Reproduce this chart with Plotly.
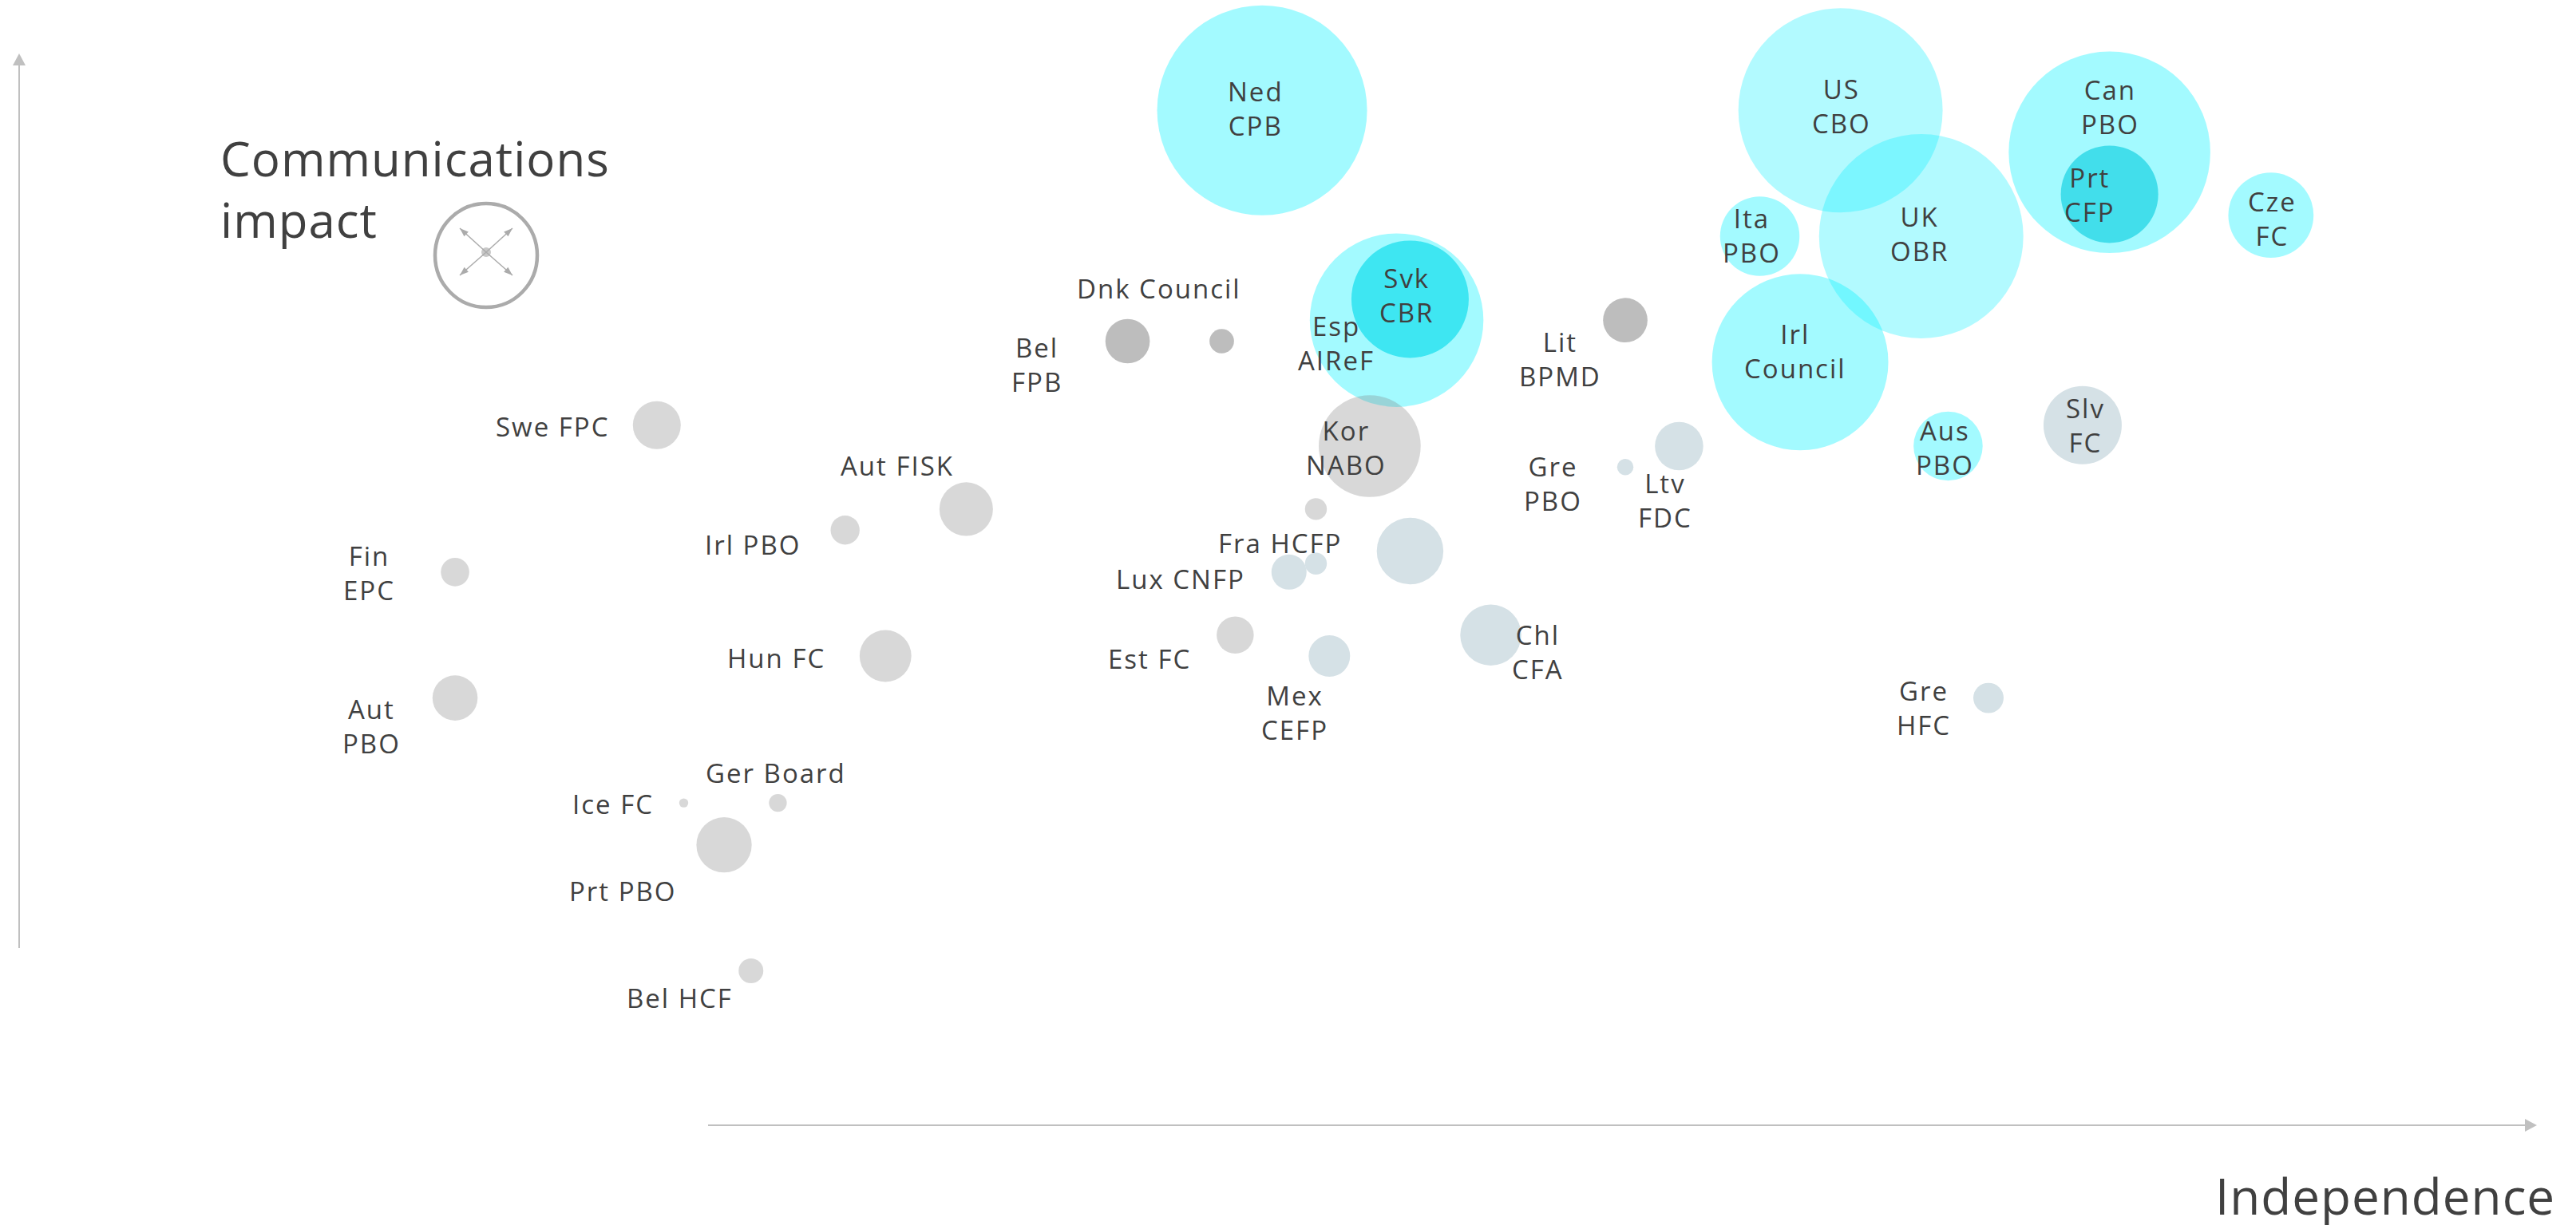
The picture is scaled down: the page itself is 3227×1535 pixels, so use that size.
import plotly.graph_objects as go

W, H = 3227, 1535

# Independence (x), communications impact (y), bubble size (impact area)
cyan_names = ["Ned CPB", "Esp AIReF", "Can PBO", "Ita PBO", "Cze FC", "Aus PBO"]
cyan_x = [60, 70, 123, 97, 135, 111]
cyan_y = [41, 31, 39, 35, 36, 25]
cyan_s = [692, 473, 638, 99, 114, 75]

pale_names = ["US CBO", "UK OBR"]
pale_x = [103, 109]
pale_y = [41, 35]
pale_s = [655, 655]

council_names = ["Irl Council"]
council_x = [100]
council_y = [29]
council_s = [488]

deep_names = ["Svk CBR", "Prt CFP"]
deep_x = [71, 123]
deep_y = [32, 37]
deep_s = [216, 149]

grey_names = ["Swe FPC", "Aut FISK", "Irl PBO", "Fin EPC", "Hun FC", "Aut PBO", "Ice FC", "Ger Board",
              "Prt PBO", "Bel HCF", "Kor NABO", "Est FC", "Unlabelled grey"]
grey_x = [15, 38, 29, 0, 32, 0, 17, 24, 20, 22, 68, 58, 64]
grey_y = [26, 22, 21, 19, 15, 13, 8, 8, 6, 0, 25, 16, 22]
grey_s = [36, 45, 13.2, 12.7, 42, 32, 1.3, 5, 48, 9.6, 163, 21.6, 7.5]

slate_names = ["Slv FC", "Ltv FDC", "Gre PBO", "Fra HCFP", "Lux CNFP", "Mex CEFP", "Chl CFA", "Unlabelled slate", "Gre HFC"]
slate_x = [121, 91, 87, 64, 62, 65, 77, 71, 114]
slate_y = [26, 25, 24, 19.4, 19, 15, 16, 20, 13]
slate_s = [96, 36.7, 4.2, 7.5, 19.4, 27, 58.5, 69.7, 14.4]

dark_names = ["Bel FPB", "Dnk Council", "Lit BPMD"]
dark_x = [50, 57, 87]
dark_y = [30, 30, 31]
dark_s = [31, 9.4, 31]

# Label text and centre, in picture pixels
label_text = ["Ned<br>CPB", "Svk<br>CBR", "Esp<br>AIReF", "Dnk Council", "Bel<br>FPB", "Lit<br>BPMD", "Ita<br>PBO",
              "Irl<br>Council", "US<br>CBO", "UK<br>OBR", "Can<br>PBO", "Prt<br>CFP", "Cze<br>FC", "Aus<br>PBO",
              "Slv<br>FC", "Kor<br>NABO", "Fra HCFP", "Lux CNFP", "Est FC", "Mex<br>CEFP", "Chl<br>CFA", "Gre<br>PBO",
              "Ltv<br>FDC", "Swe FPC", "Aut FISK", "Irl PBO", "Fin<br>EPC", "Hun FC", "Aut<br>PBO", "Ger Board",
              "Ice FC", "Prt PBO", "Bel HCF", "Gre<br>HFC"]
label_px = [1573, 1762, 1674, 1452, 1299, 1954, 2194, 2249, 2307, 2404, 2643, 2618, 2846, 2436, 2612, 1686, 1603,
            1479, 1440, 1622, 1926, 1945, 2086, 692, 1124, 943, 462, 973, 465, 972, 768, 780, 851, 2410]
label_py = [136, 370, 430, 362, 457, 450, 295, 440, 133, 293, 134, 244, 274, 561, 533, 561, 680, 725, 826, 893,
            817, 606, 627, 535, 583, 682, 718, 824, 910, 968, 1007, 1116, 1250, 887]

TEXT = "#404040"
AXIS = "#C0C0C0"
RING = "#ABABAB"
LABEL_FONT = "Open Sans"
LABEL_SIZE = 33
TITLE_SIZE = 60
INDEP_SIZE = 62
SIZEREF = 0.02


def px(v):
    return v / W


def py(v):
    return 1 - v / H


fig = go.Figure()


def add(names, xs, ys, sizes, colour):
    fig.add_trace(go.Scatter(
        x=xs, y=ys, mode="markers", text=names, hoverinfo="text", showlegend=False,
        marker=dict(size=sizes, sizemode="area", sizeref=SIZEREF, color=colour, opacity=1, line=dict(width=0)),
    ))


add(cyan_names, cyan_x, cyan_y, cyan_s, "rgba(0,240,255,0.36)")
add(pale_names, pale_x, pale_y, pale_s, "rgba(0,240,255,0.30)")
add(council_names, council_x, council_y, council_s, "rgba(0,240,255,0.36)")
add(deep_names, deep_x, deep_y, deep_s, ["rgb(62,230,242)", "rgb(66,222,235)"])
add(grey_names, grey_x, grey_y, grey_s, "rgba(128,128,128,0.31)")
add(slate_names, slate_x, slate_y, slate_s, "#D5E1E6")
add(dark_names, dark_x, dark_y, dark_s, "#BDBDBD")

annotations = [
    dict(text=t, x=px(a), y=py(b), xref="paper", yref="paper", showarrow=False, xanchor="center", yanchor="middle",
         font=dict(family=LABEL_FONT, size=LABEL_SIZE, color=TEXT), align="center")
    for t, a, b in zip(label_text, label_px, label_py)
]
annotations += [
    dict(text="Communications", x=px(281), y=py(198), xref="paper", yref="paper", showarrow=False, xanchor="left",
         yanchor="middle", font=dict(family=LABEL_FONT, size=TITLE_SIZE, color=TEXT)),
    dict(text="impact", x=px(277), y=py(275), xref="paper", yref="paper", showarrow=False, xanchor="left",
         yanchor="middle", font=dict(family=LABEL_FONT, size=TITLE_SIZE, color=TEXT)),
    dict(text="Independence", x=px(3197), y=py(1498), xref="paper", yref="paper", showarrow=False, xanchor="right",
         yanchor="middle", font=dict(family=LABEL_FONT, size=INDEP_SIZE, color=TEXT)),
]


def line_shape(x0, y0, x1, y1, colour, width):
    return dict(type="line", xref="paper", yref="paper", x0=px(x0), y0=py(y0), x1=px(x1), y1=py(y1),
                line=dict(color=colour, width=width))


def tri(points, colour):
    path = "M " + " L ".join(f"{px(a):.6f} {py(b):.6f}" for a, b in points) + " Z"
    return dict(type="path", xref="paper", yref="paper", path=path, fillcolor=colour, line=dict(width=0))


def head(x0, y0, x1, y1, colour, length, half):
    d = ((x1 - x0) ** 2 + (y1 - y0) ** 2) ** 0.5
    ux, uy = (x1 - x0) / d, (y1 - y0) / d
    bx, by = x1 - ux * length, y1 - uy * length
    return tri([(x1, y1), (bx - uy * half, by + ux * half), (bx + uy * half, by - ux * half)], colour)


shapes = [
    line_shape(24, 82, 24, 1188, AXIS, 2),
    head(24, 1188, 24, 67, AXIS, 15, 8),
    line_shape(887, 1410, 3165, 1410, AXIS, 2),
    head(887, 1410, 3178, 1410, AXIS, 15, 8),
    dict(type="circle", xref="paper", yref="paper", x0=px(545), x1=px(673), y0=py(255), y1=py(385),
         line=dict(color=RING, width=4.5), fillcolor="rgba(0,0,0,0)"),
    dict(type="circle", xref="paper", yref="paper", x0=px(603), x1=px(615), y0=py(310), y1=py(322),
         line=dict(width=0), fillcolor="#C8C8C8"),
]
for cx, cy in [(576, 286), (642, 286), (576, 345), (642, 345)]:
    shapes.append(line_shape(609, 316, cx, cy, RING, 1.5))
    shapes.append(head(609, 316, cx, cy, RING, 11, 4))

fig.update_layout(
    width=W, height=H, margin=dict(l=0, r=0, t=0, b=0), paper_bgcolor="white", plot_bgcolor="white",
    showlegend=False, annotations=annotations, shapes=shapes,
    xaxis=dict(visible=False, range=[-33.83, 157.68], fixedrange=True),
    yaxis=dict(visible=False, range=[-12.11, 46.255], fixedrange=True),
)

# Reference text is slightly tracked; plotly has no letter-spacing option, so apply it as CSS.
tracking = """
document.body.style.margin='0';
document.querySelectorAll('.annotation-text').forEach(function(el){
  var big = parseFloat(el.style.fontSize) > 50;
  el.style.letterSpacing = big ? '1px' : '2px';
});
"""
fig.write_html("out.html", config=dict(displayModeBar=False), post_script=tracking)
